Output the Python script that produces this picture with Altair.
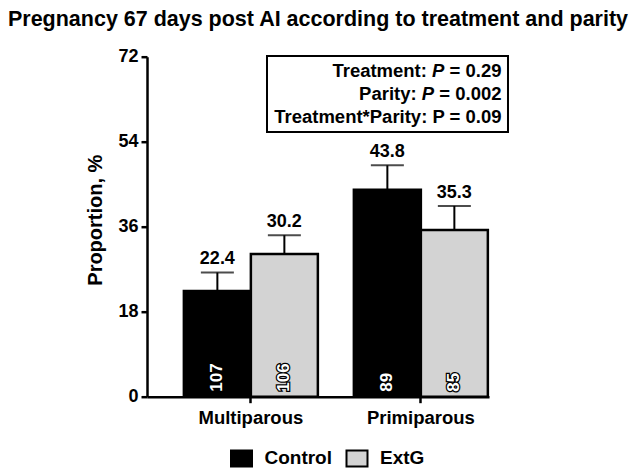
import altair as alt
import pandas as pd

# ---- data ----
parity = ["Multiparous", "Multiparous", "Primiparous", "Primiparous"]
treatment = ["Control", "ExtG", "Control", "ExtG"]
proportion = [22.4, 30.2, 43.8, 35.3]
sem = [3.9, 4.0, 5.2, 5.1]
n_cows = [107, 106, 89, 85]
y_ticks = [0, 18, 36, 54, 72]
groups = ["Control", "ExtG"]
group_colors = ["#000000", "#d3d3d3"]

stat_names = ["Treatment:", "Parity:"]
stat_values = ["= 0.29", "= 0.002"]
stat_line3 = "Treatment*Parity: P = 0.09"

FONT = "Liberation Sans"

df = pd.DataFrame({
    "parity": parity,
    "treatment": treatment,
    "proportion": proportion,
    "sem": sem,
    "n": n_cows,
})
df["upper"] = df["proportion"] + df["sem"]
df["label"] = df["proportion"].map(lambda v: f"{v:.1f}")

W, H = 342, 340

x_enc = alt.X(
    "parity:N",
    sort=["Multiparous", "Primiparous"],
    scale=alt.Scale(paddingInner=0.2118, paddingOuter=0.1118, align=0.97),
    axis=alt.Axis(
        title=None, labelAngle=0, labelFontSize=18.5, labelFontWeight="bold",
        labelColor="black", labelPadding=6, tickSize=6, tickWidth=2.5,
        tickColor="black", domainColor="black", domainWidth=2.5, grid=False,
        labelFont=FONT,
    ),
)
xo_enc = alt.XOffset("treatment:N", sort=groups,
                     scale=alt.Scale(paddingInner=0, paddingOuter=0))

y_axis = alt.Axis(
    values=y_ticks, title="Proportion, %", titleFontSize=20, titleFontWeight="bold",
    titleColor="black", titleFont=FONT, titleAngle=270, titleX=-52, titleY=163,
    titleAlign="center", titleBaseline="middle",
    labelFontSize=18, labelFontWeight="bold", labelColor="black", labelFont=FONT,
    labelPadding=3, tickSize=6, tickWidth=2.5, tickColor="black",
    domainColor="black", domainWidth=2.5, grid=False,
)
y_scale = alt.Scale(domain=[0, 72], nice=False, zero=True)

base = alt.Chart(df).encode(x=x_enc, xOffset=xo_enc)

bars = base.mark_bar(stroke="black", strokeWidth=2.5).encode(
    y=alt.Y("proportion:Q", scale=y_scale, axis=y_axis, title="Proportion, %"),
    color=alt.Color(
        "treatment:N",
        scale=alt.Scale(domain=groups, range=group_colors),
        legend=alt.Legend(
            title=None, orient="none", direction="horizontal",
            legendX=83, legendY=390, padding=0,
            symbolType="M-1,-0.76H1V0.76H-1Z", symbolSize=441,
            symbolStrokeColor="black", symbolStrokeWidth=2, symbolOpacity=1,
            labelFontSize=19, labelFontWeight="bold", labelColor="black",
            labelFont=FONT, labelOffset=11.5, columnPadding=9.5,
        ),
    ),
)

err = base.mark_rule(color="black", strokeWidth=2).encode(
    y=alt.Y("proportion:Q", scale=y_scale, title="Proportion, %"),
    y2="upper:Q",
)
caps = base.mark_tick(color="black", size=33, thickness=2, orient="horizontal").encode(
    y=alt.Y("upper:Q", scale=y_scale, title="Proportion, %"),
)
values_txt = base.mark_text(
    baseline="alphabetic", dy=-8, fontSize=18, fontWeight="bold", font=FONT, color="black"
).encode(
    y=alt.Y("upper:Q", scale=y_scale, title="Proportion, %"),
    text="label:N",
)
count_style = dict(angle=270, align="left", baseline="middle", dx=5, fontSize=17,
                   fontWeight="bold", font=FONT)
counts_outline = base.mark_text(
    color="black", stroke="black", strokeWidth=2.5, **count_style
).encode(
    y=alt.Y("zero:Q", scale=y_scale, title="Proportion, %"),
    text="n:Q",
).transform_calculate(zero="0")
counts_txt = base.mark_text(color="white", **count_style).encode(
    y=alt.Y("zero:Q", scale=y_scale, title="Proportion, %"),
    text="n:Q",
).transform_calculate(zero="0")

# ---- statistics box (annotation) ----
one = pd.DataFrame({"k": [0]})
FS = 18.5
EMW = {"=": 0.584, " ": 0.278, "0": 0.556, ".": 0.278, "2": 0.556, "9": 0.556, "P": 0.667}
def tw(s):
    return sum(EMW[c] for c in s) * FS

R = 354.5
line_y = [20.3, 43.0, 66.0]

box = alt.Chart(one).mark_rect(fillOpacity=0, stroke="black", strokeWidth=2).encode(
    x=alt.value(120), x2=alt.value(361), y=alt.value(-0.7), y2=alt.value(75.3)
)

ann_layers = [box]
for name, val, yy in zip(stat_names, stat_values, line_y):
    p_right = R - tw(val) - tw(" ")
    name_right = p_right - tw("P") - tw(" ")
    for txt, xx, style in [(val, R, "normal"), ("P", p_right, "italic"), (name, name_right, "normal")]:
        ann_layers.append(
            alt.Chart(one).mark_text(
                align="right", baseline="alphabetic", fontSize=FS, fontWeight="bold",
                fontStyle=style, font=FONT, color="black"
            ).encode(x=alt.value(xx), y=alt.value(yy), text=alt.value(txt))
        )
ann_layers.append(
    alt.Chart(one).mark_text(
        align="right", baseline="alphabetic", fontSize=FS, fontWeight="bold",
        font=FONT, color="black"
    ).encode(x=alt.value(R), y=alt.value(line_y[2]), text=alt.value(stat_line3))
)

chart = alt.layer(bars, err, caps, values_txt, counts_outline, counts_txt, *ann_layers).properties(
    width=W, height=H,
    autosize=alt.AutoSizeParams(type="none"),
    padding={"left": 139, "top": 48.7, "right": 140, "bottom": 76},
    title=alt.TitleParams(
        "Pregnancy 67 days post AI according to treatment and parity",
        fontSize=21.5, fontWeight="bold", font=FONT, color="black",
        anchor="middle", frame="group", baseline="alphabetic", offset=22, dy=22,
    ),
    background="white",
).configure_view(stroke=None)

chart.save("out.html", embed_options={"renderer": "svg", "actions": False})
